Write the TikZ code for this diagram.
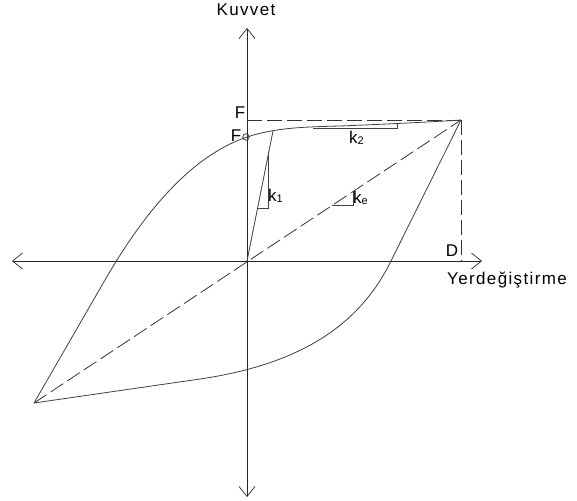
\documentclass[tikz,border=0pt]{standalone}
\usepackage{fontspec}
\setmainfont[LetterSpace=8]{Liberation Sans}
\usetikzlibrary{arrows.meta}
\begin{document}
\begin{tikzpicture}[x=1pt,y=-1pt,
  axis/.style={line width=0.8pt,black!85,-{Straight Barb[length=10pt,width=16pt,line width=0.7pt]}},
  curve/.style={line width=0.8pt,black!75},
  dashline/.style={line width=0.8pt,black!80,dash pattern=on 15pt off 5pt},
  lbl/.style={font=\fontsize{17}{20}\selectfont,inner sep=0pt},
  sublbl/.style={font=\fontsize{17}{20}\selectfont,inner sep=0pt}]
\useasboundingbox (0,0) rectangle (577,500);
% key points
\coordinate (O) at (247,261);
\coordinate (P) at (461,120);
\coordinate (Q) at (34,403);
\coordinate (L) at (12,261);
\coordinate (R) at (482,261);
\coordinate (T) at (247,28);
\coordinate (B) at (247,497);
\coordinate (Fa) at (247,120);
\coordinate (Da) at (461,261);
\coordinate (Y1) at (273,131);
% axes
\draw[axis] (O) -- (L);
\draw[axis] (O) -- (R);
\draw[axis] (O) -- (T);
\draw[axis] (O) -- (B);
% dashed lines
\draw[dashline] (Fa) -- (P);
\draw[dashline] (P) -- (Da);
\draw[dashline] (Q) -- (P);
% upper branch
\draw[curve] (Q) -- (105,280)
  .. controls (150,202) and (197,154) .. (247,137)
  .. controls (275,128) and (300,127) .. (340,126)
  .. controls (390,124) and (430,122) .. (P);
% lower branch
\draw[curve] (Q) -- (200,379)
  .. controls (310,363) and (363,318) .. (391,261) -- (P);
% k1 line and triangle
\draw[curve] (O) -- (Y1);
\draw[curve] (258,208) -- (268,208) -- (268,152);
% k2 triangle
\draw[curve] (313,128) -- (397,128) -- (397,124);
% ke triangle
\draw[curve] (332,205) -- (353,205) -- (353,191);
% yield circle
\draw[curve] (246,137) circle (3.2);
% labels
\node[lbl,anchor=base] (kuv) at (246,16) {Kuvvet};
\node[lbl,anchor=base west] (yer) at (447,284) {Yerdeğiştirme};
\node[lbl,anchor=base] (F1) at (240,118) {F};
\node[lbl,anchor=base] (F2) at (236,141) {F};
\node[lbl,anchor=base] (D) at (452,256) {D};
\node[sublbl,anchor=base west] (k1) at (268,201) {k\raisebox{-1pt}{\fontsize{11}{12}\selectfont 1}};
\node[sublbl,anchor=base west] (k2) at (349,143) {k\raisebox{-1pt}{\fontsize{11}{12}\selectfont 2}};
\node[sublbl,anchor=base west] (ke) at (353,203) {k\raisebox{-1pt}{\fontsize{11}{12}\selectfont e}};
\end{tikzpicture}
\end{document}
